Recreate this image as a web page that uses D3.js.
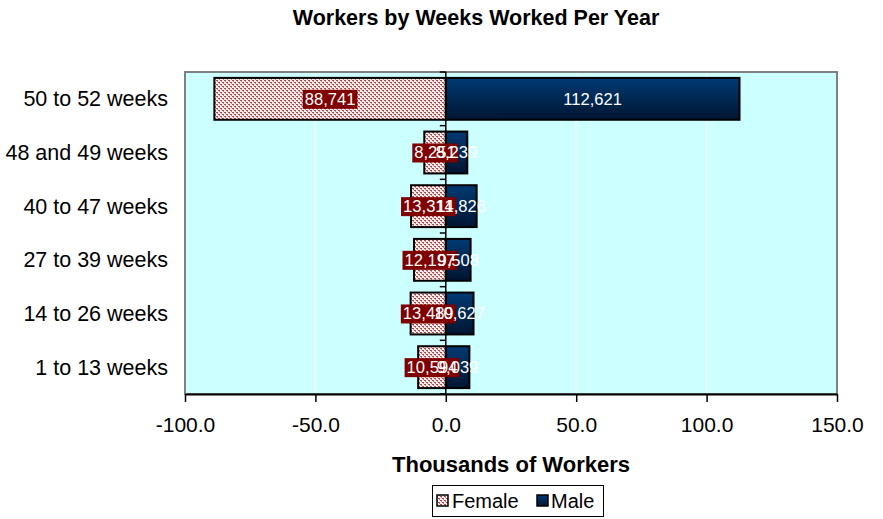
<!DOCTYPE html>
<html><head><meta charset="utf-8">
<script src="https://cdn.jsdelivr.net/npm/d3@7"></script>
<style>body{margin:0;background:#fff}svg{display:block;font-family:Arial,"Liberation Sans",sans-serif}</style>
</head><body><svg id="c" width="883" height="519"></svg>
<script>
const categories = ["1 to 13 weeks","14 to 26 weeks","27 to 39 weeks","40 to 47 weeks","48 and 49 weeks","50 to 52 weeks"];
const female = [10594, 13489, 12197, 13314, 8251, 88741];
const male = [9039, 10627, 9508, 11826, 8239, 112621];
const xTicks = [-100, -50, 0, 50, 100, 150];
const seriesNames = ["Female", "Male"];
const title = "Workers by Weeks Worked Per Year";
const xTitle = "Thousands of Workers";

const svg = d3.select("#c");
const L = 185, R = 837, T = 72, B = 394;
const x = d3.scaleLinear().domain([-100, 150]).range([L, R]);
const y = d3.scaleBand().domain(categories.slice().reverse()).range([T, B]).paddingInner(0.22).paddingOuter(0.11);
const yb = d3.scaleBand().domain(categories.slice().reverse()).range([T, B]);

const defs = svg.append("defs");
const pat = defs.append("pattern").attr("id","dots").attr("patternUnits","userSpaceOnUse").attr("width",4).attr("height",4);
pat.append("rect").attr("width",4).attr("height",4).attr("fill","#fbeeee");
pat.append("rect").attr("x",0).attr("y",0).attr("width",2).attr("height",1).attr("fill","#b04848");
pat.append("rect").attr("x",2).attr("y",2).attr("width",2).attr("height",1).attr("fill","#b04848");
pat.append("rect").attr("x",1).attr("y",1).attr("width",1).attr("height",1).attr("fill","#d08080");
pat.append("rect").attr("x",3).attr("y",3).attr("width",1).attr("height",1).attr("fill","#d08080");
const gr = defs.append("linearGradient").attr("id","navy").attr("x1",0).attr("y1",0).attr("x2",0).attr("y2",1);
gr.append("stop").attr("offset","0%").attr("stop-color","#003a74");
gr.append("stop").attr("offset","100%").attr("stop-color","#001530");

// plot background
svg.append("rect").attr("x",L).attr("y",T).attr("width",R-L).attr("height",B-T).attr("fill","#ccffff");
// grid
svg.append("g").selectAll("line").data(xTicks.filter(d=>d!==-100 && d!==150)).join("line")
  .attr("x1",d=>x(d)).attr("x2",d=>x(d)).attr("y1",T).attr("y2",B).attr("stroke","#ffffff").attr("stroke-width",1);
// border
svg.append("rect").attr("x",L).attr("y",T).attr("width",R-L).attr("height",B-T).attr("fill","none").attr("stroke","#808080").attr("stroke-width",2);

// bars
const rows = categories.map((c,i)=>({c, f:female[i], m:male[i]}));
svg.append("g").selectAll("rect").data(rows).join("rect")
  .attr("x",d=>x(-d.f/1000)).attr("width",d=>x(0)-x(-d.f/1000))
  .attr("y",d=>y(d.c)).attr("height",y.bandwidth())
  .attr("fill","url(#dots)").attr("stroke","#000").attr("stroke-width",2);
svg.append("g").selectAll("rect").data(rows).join("rect")
  .attr("x",x(0)).attr("width",d=>x(d.m/1000)-x(0))
  .attr("y",d=>y(d.c)).attr("height",y.bandwidth())
  .attr("fill","url(#navy)").attr("stroke","#000").attr("stroke-width",2);

// category axis at zero
const ya = svg.append("g").attr("transform",`translate(${x(0)},0)`);
ya.append("line").attr("y1",T).attr("y2",B).attr("stroke","#000").attr("stroke-width",1.5);
const bounds = categories.map(c=>yb(c)).concat([B]);
ya.selectAll("line.t").data(bounds).join("line").attr("class","t")
  .attr("x1",-6).attr("x2",0).attr("y1",d=>d).attr("y2",d=>d).attr("stroke","#000").attr("stroke-width",1.5);

// category labels
svg.append("g").selectAll("text").data(categories).join("text")
  .attr("x",168).attr("y",d=>yb(d)+yb.bandwidth()/2).attr("dy","0.35em")
  .attr("text-anchor","end").attr("font-size",21.5).attr("fill","#000").text(d=>d);

// x axis
const xa = svg.append("g").attr("transform",`translate(0,${B})`)
  .call(d3.axisBottom(x).tickValues(xTicks).tickFormat(d=>d.toFixed(1)).tickSize(8).tickSizeOuter(0));
xa.select(".domain").attr("stroke","#000").attr("stroke-width",2);
xa.selectAll(".tick line").attr("stroke","#000").attr("stroke-width",1.5);
xa.selectAll(".tick text").attr("font-size",21).attr("font-family","Arial, Liberation Sans, sans-serif").attr("fill","#000").attr("dy","1.3em");

// data labels
const fmt = d3.format(",");
const fl = svg.append("g").selectAll("g").data(rows).join("g")
  .attr("transform",d=>`translate(${(x(-d.f/1000)+x(0))/2},${y(d.c)+y.bandwidth()/2})`);
fl.append("text").attr("text-anchor","middle").attr("dy","0.36em").attr("font-size",16.6).attr("fill","#fff").text(d=>fmt(d.f))
  .each(function(){
    const bb = this.getBBox();
    d3.select(this.parentNode).insert("rect","text").attr("x",bb.x-2).attr("y",bb.y).attr("width",bb.width+4).attr("height",bb.height).attr("fill","#800000");
  });
svg.append("g").selectAll("text").data(rows).join("text")
  .attr("x",d=>(x(d.m/1000)+x(0))/2).attr("y",d=>y(d.c)+y.bandwidth()/2).attr("dy","0.36em")
  .attr("text-anchor","middle").attr("font-size",16.6).attr("fill","#fff").text(d=>fmt(d.m));

// titles
svg.append("text").attr("x",476).attr("y",25).attr("text-anchor","middle").attr("font-size",21.5).attr("font-weight","bold").text(title);
svg.append("text").attr("x",511).attr("y",472).attr("text-anchor","middle").attr("font-size",22).attr("font-weight","bold").text(xTitle);

// legend
const lg = svg.append("g");
lg.append("rect").attr("x",432.5).attr("y",485.5).attr("width",171).attr("height",31).attr("fill","#fff").attr("stroke","#000").attr("stroke-width",1);
const items = [{n:seriesNames[0], fill:"url(#dots)", x:437, tx:452},{n:seriesNames[1], fill:"url(#navy)", x:537, tx:551}];
items.forEach(it=>{
  lg.append("rect").attr("x",it.x).attr("y",495).attr("width",11).attr("height",11).attr("fill",it.fill).attr("stroke","#000").attr("stroke-width",1.5);
  lg.append("text").attr("x",it.tx).attr("y",508).attr("font-size",20).text(it.n);
});
</script></body></html>
